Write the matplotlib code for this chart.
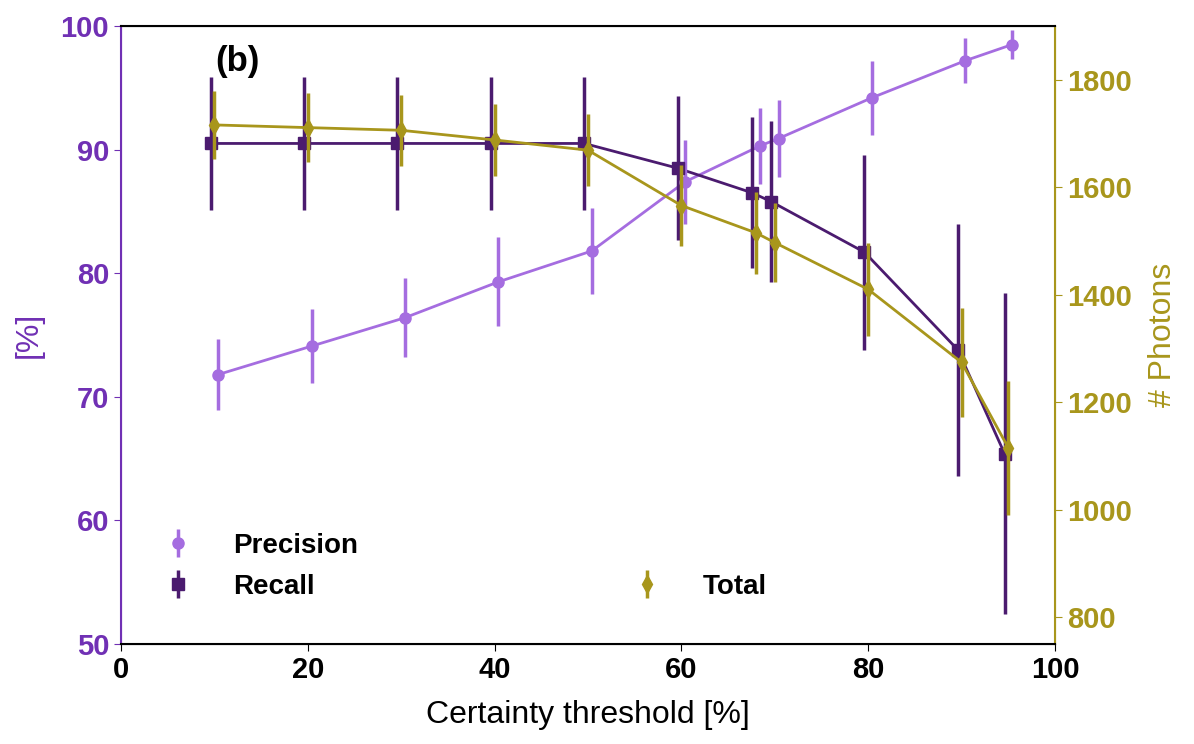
import numpy as np
import matplotlib
matplotlib.use("Agg")
import matplotlib.pyplot as plt

plt.rcParams['font.family'] = ['Liberation Sans', 'DejaVu Sans']

# certainty thresholds [%]
thresh = [10, 20, 30, 40, 50, 60, 68, 70, 80, 90, 95]

precision = [71.8, 74.1, 76.4, 79.3, 81.8, 87.4, 90.3, 90.9, 94.2, 97.2, 98.5]
precision_err = [2.9, 3.0, 3.2, 3.6, 3.5, 3.4, 3.1, 3.1, 3.0, 1.8, 1.2]

recall = [90.5, 90.5, 90.5, 90.5, 90.5, 88.5, 86.5, 85.8, 81.7, 73.8, 65.4]
recall_err = [5.4, 5.4, 5.4, 5.4, 5.4, 5.8, 6.1, 6.5, 7.9, 10.2, 13.0]

total = [1716, 1711, 1706, 1688, 1669, 1566, 1515, 1497, 1410, 1274, 1115]
total_err = [63, 64, 66, 67, 67, 75, 76, 73, 87, 101, 125]

c_prec = '#a56de0'
c_rec = '#4b1b6f'
c_tot = '#a8961c'
c_left = '#7030b4'

fig = plt.figure(figsize=(11.94, 7.44), dpi=100)
ax = fig.add_axes([0.1013, 0.1344, 0.7823, 0.8306])
ax2 = ax.twinx()

t = np.array(thresh)
# connecting lines drawn separately so the legend shows only marker + bar
ax.plot(t + 0.4, precision, '-', color=c_prec, lw=2)
ax.plot(t - 0.4, recall, '-', color=c_rec, lw=2)
ax2.plot(t, total, '-', color=c_tot, lw=2)
hp = ax.errorbar(t + 0.4, precision, yerr=precision_err, fmt='o', color=c_prec,
                 ms=8, elinewidth=2.5, label='Precision')
hr = ax.errorbar(t - 0.4, recall, yerr=recall_err, fmt='s', color=c_rec,
                 ms=8, elinewidth=2.5, label='Recall')
ht = ax2.errorbar(t, total, yerr=total_err, fmt='d', color=c_tot,
                  ms=9, elinewidth=2.5, label='Total')

ax.set_xlim(0, 100)
ax.set_ylim(50, 100)
ax2.set_ylim(750, 1900)
ax2.set_yticks([800, 1000, 1200, 1400, 1600, 1800])

ax.set_xlabel('Certainty threshold [%]', fontsize=23, labelpad=12)
ax.set_ylabel('[%]', fontsize=23, color=c_left, labelpad=12)
ax2.set_ylabel('# Photons', fontsize=23, color=c_tot, labelpad=12)

ax.tick_params(axis='x', labelsize=21, direction='out', length=5)
ax.tick_params(axis='y', labelsize=21, colors=c_left, direction='out', length=5)
ax2.tick_params(axis='y', labelsize=21, colors=c_tot, direction='out', length=5)
for lab in ax.get_xticklabels() + ax.get_yticklabels() + ax2.get_yticklabels():
    lab.set_fontweight('bold')

ax2.spines['left'].set_color(c_left)
ax2.spines['right'].set_color(c_tot)
ax.spines['left'].set_color(c_left)
ax.spines['right'].set_color(c_tot)
for s in ['left', 'right', 'top', 'bottom']:
    ax2.spines[s].set_linewidth(1.5)

ax.text(0.101, 0.97, '(b)', transform=ax.transAxes, fontsize=25,
        fontweight='bold', va='top')

leg1 = ax.legend(handles=[hp, hr], loc='lower left', bbox_to_anchor=(0.019, 0.031),
                 frameon=False, prop={'weight': 'bold', 'size': 20},
                 handlelength=1.0, handletextpad=1.5, labelspacing=0.55)
leg2 = ax2.legend(handles=[ht], loc='lower left', bbox_to_anchor=(0.522, 0.031),
                  frameon=False, prop={'weight': 'bold', 'size': 20},
                  handlelength=1.0, handletextpad=1.5)

fig.savefig('out.png', dpi=100)
